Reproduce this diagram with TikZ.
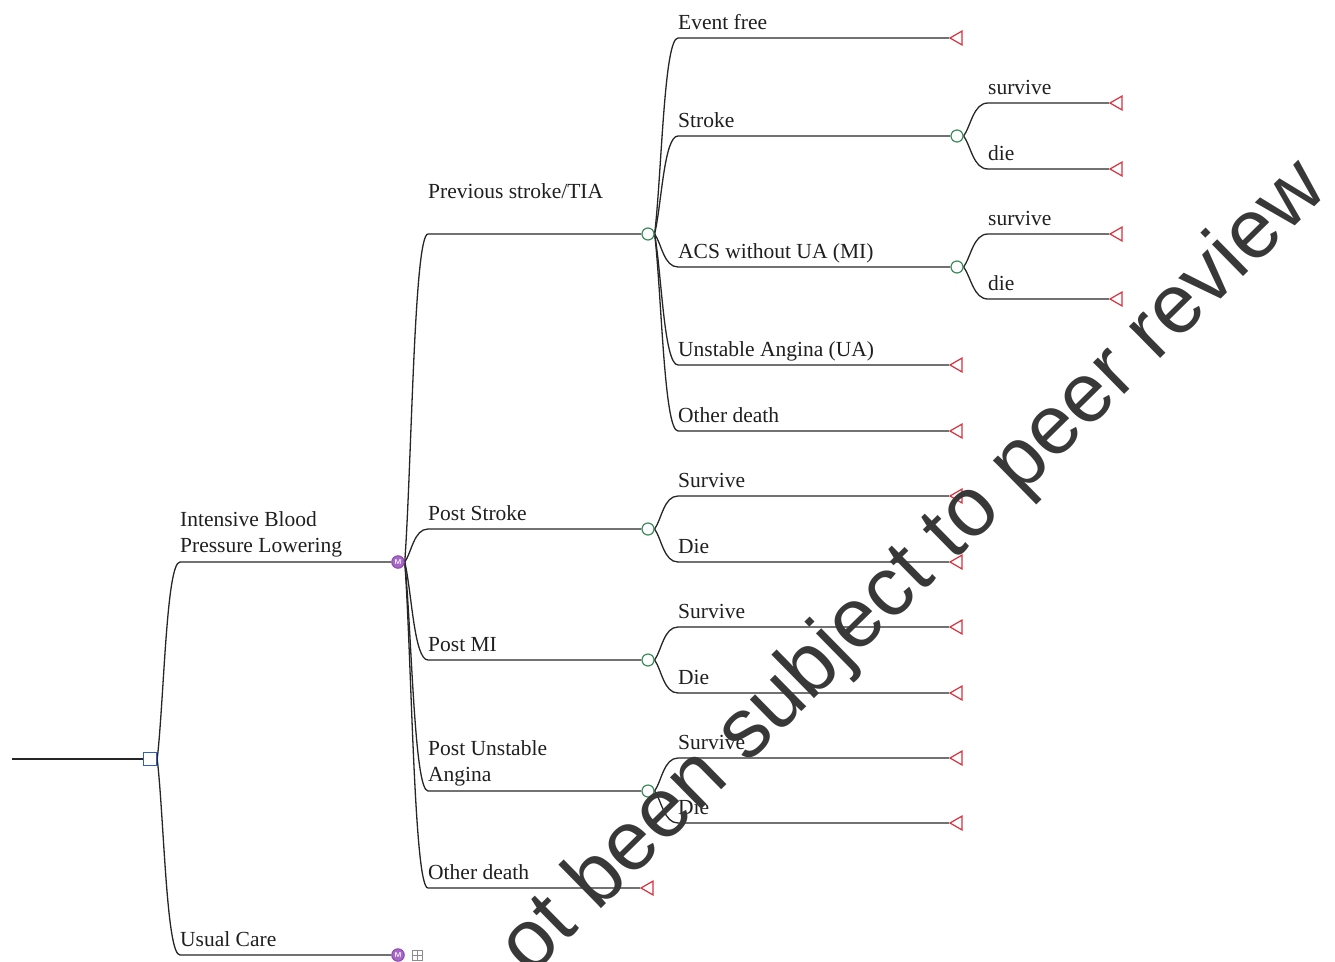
\documentclass[tikz,border=0pt]{standalone}
\usepackage{fontspec}
\setmainfont{Liberation Serif}
\newfontfamily\wmfont{Liberation Sans}
\usetikzlibrary{shapes.geometric,calc}
\pgfdeclarelayer{wires}
\pgfsetlayers{wires,main}
\definecolor{edge}{HTML}{262626}
\definecolor{dblue}{HTML}{2F5FC4}
\definecolor{cgreen}{HTML}{3C8C5A}
\definecolor{tred}{HTML}{D8313C}
\definecolor{mpurple}{HTML}{8E44B4}
\tikzset{
  wire/.style={draw=edge, line width=1.3pt},
  br/.style={to path={.. controls ($(\tikztostart)!0.3!(\tikztotarget)$) and ($(\tikztostart|-\tikztotarget)!0.4!(\tikztotarget)$) .. (\tikztotarget)}},
  decision/.style={rectangle, draw=dblue, fill=white, line width=1.4pt, minimum size=13pt, inner sep=0},
  chance/.style={circle, draw=cgreen, fill=white, line width=1.2pt, minimum size=12pt, inner sep=0},
  markov/.style={circle, draw=mpurple, fill=mpurple!80, line width=1pt, minimum size=12.5pt, inner sep=0,
    text=white, font=\sffamily\bfseries\fontsize{7}{7}\selectfont},
  terminal/.style={regular polygon, regular polygon sides=3, shape border rotate=90, draw=tred,
    fill=white, line width=1.2pt, minimum size=16pt, inner sep=0},
  boxplus/.style={rectangle, draw=black!45, minimum size=10pt, inner sep=0, line width=0.8pt,
    path picture={\draw[black!45, line width=0.8pt]
      (path picture bounding box.north) -- (path picture bounding box.south)
      (path picture bounding box.west) -- (path picture bounding box.east);}},
  lbl/.style={anchor=base west, inner sep=0, text=black!88, font=\fontsize{21.5}{26}\selectfont},
  lbl2/.style={anchor=south west, inner sep=0, align=left, text=black!88, font=\fontsize{21.5}{26}\selectfont},
}
\begin{document}
\begin{tikzpicture}[x=1pt, y=-1pt]
\useasboundingbox (0,0) rectangle (1335,961);

% ---- nodes of the tree ----
\coordinate (root) at (12,759);
\node[decision] (D) at (150,759) {};
\node[markov] (M1) at (398,562) {M};
\node[markov] (M2) at (398,955) {M};
\node[boxplus] (MB) at (417,955) {};

\node[chance] (C1) at (648,234) {};
\node[chance] (C2) at (648,529) {};
\node[chance] (C3) at (648,660) {};
\node[chance] (C4) at (648,791) {};
\node[chance] (C5) at (957,136) {};
\node[chance] (C6) at (957,267) {};

\node[terminal] (Tod)  at (649,888) {};
\node[terminal] (Tef)  at (958,38)  {};
\node[terminal] (Tua)  at (958,365) {};
\node[terminal] (Tod2) at (958,431) {};
\node[terminal] (T5a)  at (1118,103) {};
\node[terminal] (T5b)  at (1118,169) {};
\node[terminal] (T6a)  at (1118,234) {};
\node[terminal] (T6b)  at (1118,299) {};
\node[terminal] (T2a)  at (958,496) {};
\node[terminal] (T2b)  at (958,562) {};
\node[terminal] (T3a)  at (958,627) {};
\node[terminal] (T3b)  at (958,693) {};
\node[terminal] (T4a)  at (958,758) {};
\node[terminal] (T4b)  at (958,823) {};

% ---- branch elbows ----
\coordinate (kI) at (180,562);  \coordinate (kU) at (180,955);
\coordinate (kP) at (428,234);  \coordinate (kS) at (428,529);
\coordinate (kM) at (428,660);  \coordinate (kA) at (428,791);
\coordinate (kO) at (428,888);
\coordinate (e1) at (678,38);   \coordinate (e2) at (678,136);
\coordinate (e3) at (678,267);  \coordinate (e4) at (678,365);
\coordinate (e5) at (678,431);
\coordinate (s1) at (988,103);  \coordinate (s2) at (988,169);
\coordinate (s3) at (988,234);  \coordinate (s4) at (988,299);
\coordinate (p1) at (678,496);  \coordinate (p2) at (678,562);
\coordinate (q1) at (678,627);  \coordinate (q2) at (678,693);
\coordinate (r1) at (678,758);  \coordinate (r2) at (678,823);

% ---- connectors, kept underneath the node symbols ----
\begin{pgfonlayer}{wires}
\draw[wire] (root) -- (D.west);
\draw[wire] (D.east) to[br] (kI) -- (M1.west);
\draw[wire] (D.east) to[br] (kU) -- (M2.west);

\draw[wire] (M1.east) to[br] (kP) -- (C1.west);
\draw[wire] (M1.east) to[br] (kS) -- (C2.west);
\draw[wire] (M1.east) to[br] (kM) -- (C3.west);
\draw[wire] (M1.east) to[br] (kA) -- (C4.west);
\draw[wire] (M1.east) to[br] (kO) -- (Tod);

\draw[wire] (C1.east) to[br] (e1) -- (Tef);
\draw[wire] (C1.east) to[br] (e2) -- (C5.west);
\draw[wire] (C1.east) to[br] (e3) -- (C6.west);
\draw[wire] (C1.east) to[br] (e4) -- (Tua);
\draw[wire] (C1.east) to[br] (e5) -- (Tod2);

\draw[wire] (C5.east) to[br] (s1) -- (T5a);
\draw[wire] (C5.east) to[br] (s2) -- (T5b);
\draw[wire] (C6.east) to[br] (s3) -- (T6a);
\draw[wire] (C6.east) to[br] (s4) -- (T6b);

\draw[wire] (C2.east) to[br] (p1) -- (T2a);
\draw[wire] (C2.east) to[br] (p2) -- (T2b);
\draw[wire] (C3.east) to[br] (q1) -- (T3a);
\draw[wire] (C3.east) to[br] (q2) -- (T3b);
\draw[wire] (C4.east) to[br] (r1) -- (T4a);
\draw[wire] (C4.east) to[br] (r2) -- (T4b);
\end{pgfonlayer}

% ---- branch labels ----
\node[lbl2] (lI) at (180,557.5) {Intensive Blood\\Pressure Lowering};
\node[lbl]  (lU) at (180,946) {Usual Care};
\node[lbl]  (lP) at (428,198) {Previous stroke/TIA};
\node[lbl]  (lS) at (428,520) {Post Stroke};
\node[lbl]  (lM) at (428,651) {Post MI};
\node[lbl2] (lA) at (428,786.5) {Post Unstable\\Angina};
\node[lbl]  (lO) at (428,879) {Other death};

\node[lbl] (le1) at (678,29)  {Event free};
\node[lbl] (le2) at (678,127) {Stroke};
\node[lbl] (le3) at (678,258) {ACS without UA (MI)};
\node[lbl] (le4) at (678,356) {Unstable Angina (UA)};
\node[lbl] (le5) at (678,422) {Other death};

\node[lbl] (ls1) at (988,94)  {survive};
\node[lbl] (ls2) at (988,160) {die};
\node[lbl] (ls3) at (988,225) {survive};
\node[lbl] (ls4) at (988,290) {die};

\node[lbl] (lp1) at (678,487) {Survive};
\node[lbl] (lp2) at (678,553) {Die};
\node[lbl] (lq1) at (678,618) {Survive};
\node[lbl] (lq2) at (678,684) {Die};
\node[lbl] (lr1) at (678,749) {Survive};
\node[lbl] (lr2) at (678,814) {Die};

% ---- diagonal notice across the page ----
\begin{scope}
\clip (0,0) rectangle (1335,961);
\node[rotate=44.5, anchor=base east, inner sep=0, text=black!78,
      font=\wmfont\fontsize{84}{84}\selectfont] (wm) at (1330,192)
      {ot been subject to peer review};
\end{scope}
\end{tikzpicture}
\end{document}
